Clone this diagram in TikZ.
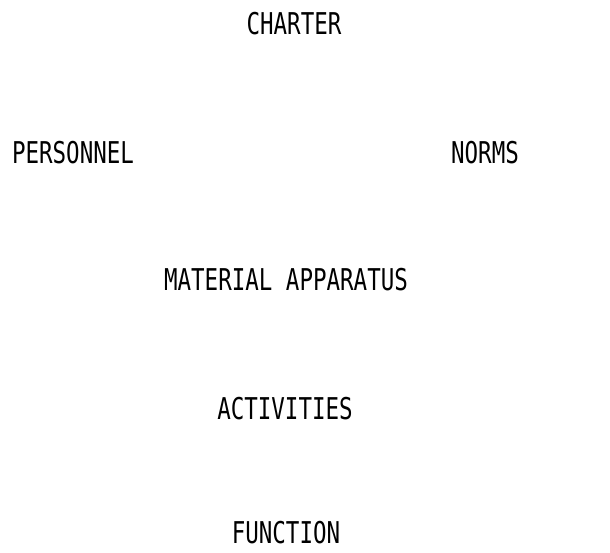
\documentclass[tikz,border=0pt]{standalone}
\usepackage{fontspec}
\usepackage{graphicx}
\newfontfamily\labelfont{DejaVu Sans Mono}
\begin{document}
\begin{tikzpicture}[x=1pt,y=1pt,
  lbl/.style={inner sep=0pt, anchor=center, font=\labelfont\fontsize{30}{30}\selectfont}]
\useasboundingbox (0,0) rectangle (610,552);
\newcommand{\narrow}[1]{\scalebox{0.75}[1]{#1}}
\node[lbl] (charter) at (294,528) {\narrow{CHARTER}};
\node[lbl] (personnel) at (73,399) {\narrow{PERSONNEL}};
\node[lbl] (norms) at (485,399) {\narrow{NORMS}};
\node[lbl] (material) at (286,272) {\narrow{MATERIAL APPARATUS}};
\node[lbl] (activities) at (285,143) {\narrow{ACTIVITIES}};
\node[lbl] (function) at (286,19) {\narrow{FUNCTION}};
\end{tikzpicture}
\end{document}
